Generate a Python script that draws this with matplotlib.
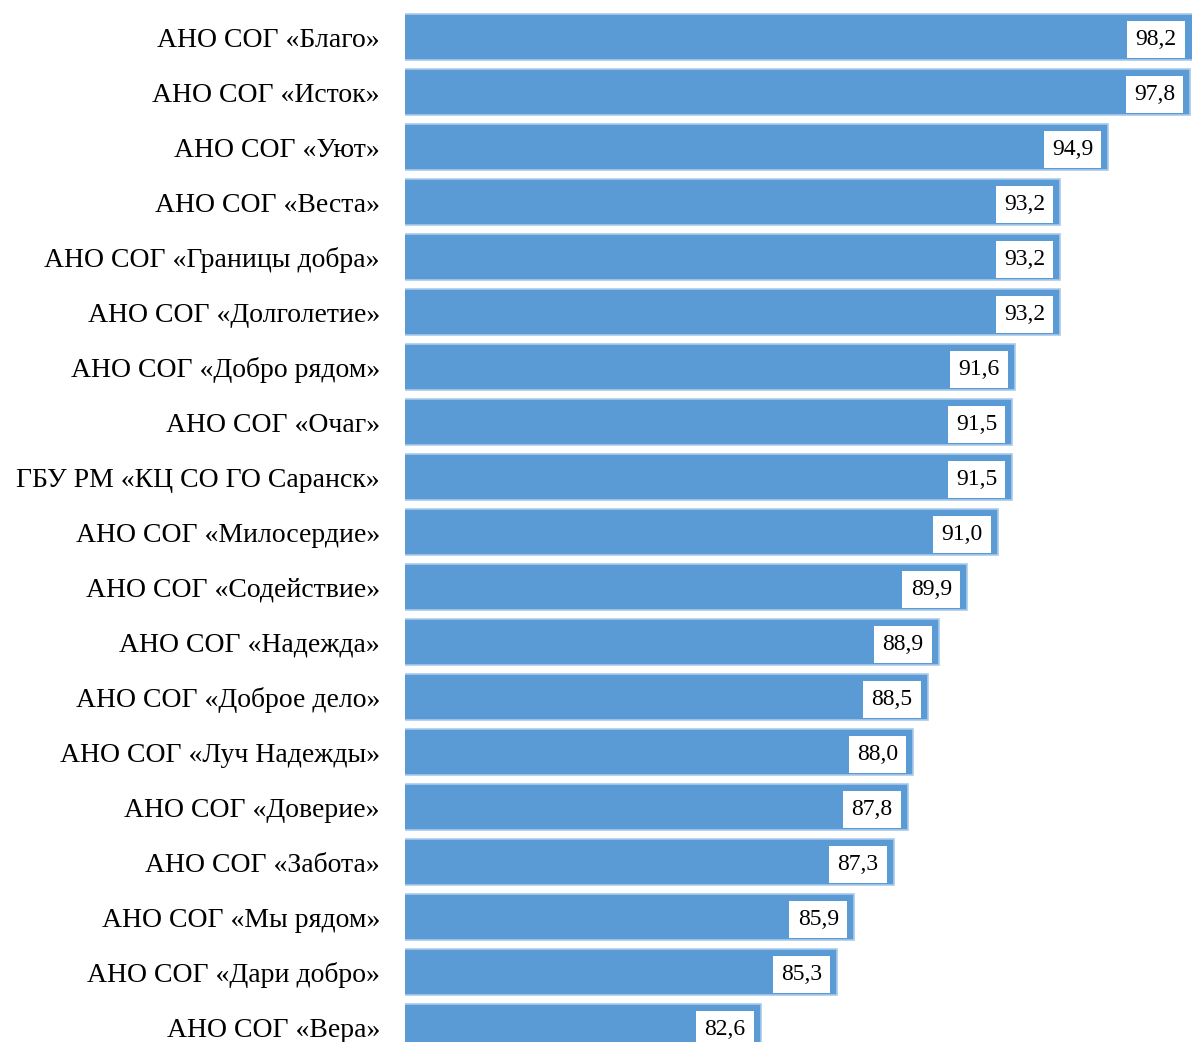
import matplotlib.pyplot as plt

names = ['АНО СОГ «Благо»', 'АНО СОГ «Исток»', 'АНО СОГ «Уют»', 'АНО СОГ «Веста»',
         'АНО СОГ «Границы добра»', 'АНО СОГ «Долголетие»', 'АНО СОГ «Добро рядом»',
         'АНО СОГ «Очаг»', 'ГБУ РМ «КЦ СО ГО Саранск»', 'АНО СОГ «Милосердие»',
         'АНО СОГ «Содействие»', 'АНО СОГ «Надежда»', 'АНО СОГ «Доброе дело»',
         'АНО СОГ «Луч Надежды»', 'АНО СОГ «Доверие»', 'АНО СОГ «Забота»',
         'АНО СОГ «Мы рядом»', 'АНО СОГ «Дари добро»', 'АНО СОГ «Вера»']
values = [98.2, 97.8, 94.9, 93.2, 93.2, 93.2, 91.6, 91.5, 91.5, 91.0,
          89.9, 88.9, 88.5, 88.0, 87.8, 87.3, 85.9, 85.3, 82.6]

plt.rcParams['font.family'] = ['Liberation Serif', 'DejaVu Serif']

fig = plt.figure(figsize=(11.92, 10.42), dpi=100)
ax = fig.add_axes([405 / 1192, 0, 787 / 1192, 1])

pos = list(range(len(values)))
bars = ax.barh(pos, values, height=0.84, color='#5B9BD5', edgecolor='#A9CBEA', linewidth=1.2)

for y, v in zip(pos, values):
    ax.annotate(f'{v:.1f}'.replace('.', ','), xy=(min(v, 97.86), y), xytext=(-11, 0),
                textcoords='offset points', ha='right', va='center_baseline', fontsize=17,
                bbox=dict(boxstyle='square,pad=0.35', fc='white', ec='none'))

ax.set_xlim(70, 97.86)
ax.set_ylim(18.27, -0.673)
ax.set_yticks(pos)
ax.set_yticklabels(names, fontsize=20)
ax.tick_params(axis='y', length=0, pad=18)
ax.set_xticks([])
for s in ax.spines.values():
    s.set_visible(False)

fig.savefig('out.png', dpi=100)
